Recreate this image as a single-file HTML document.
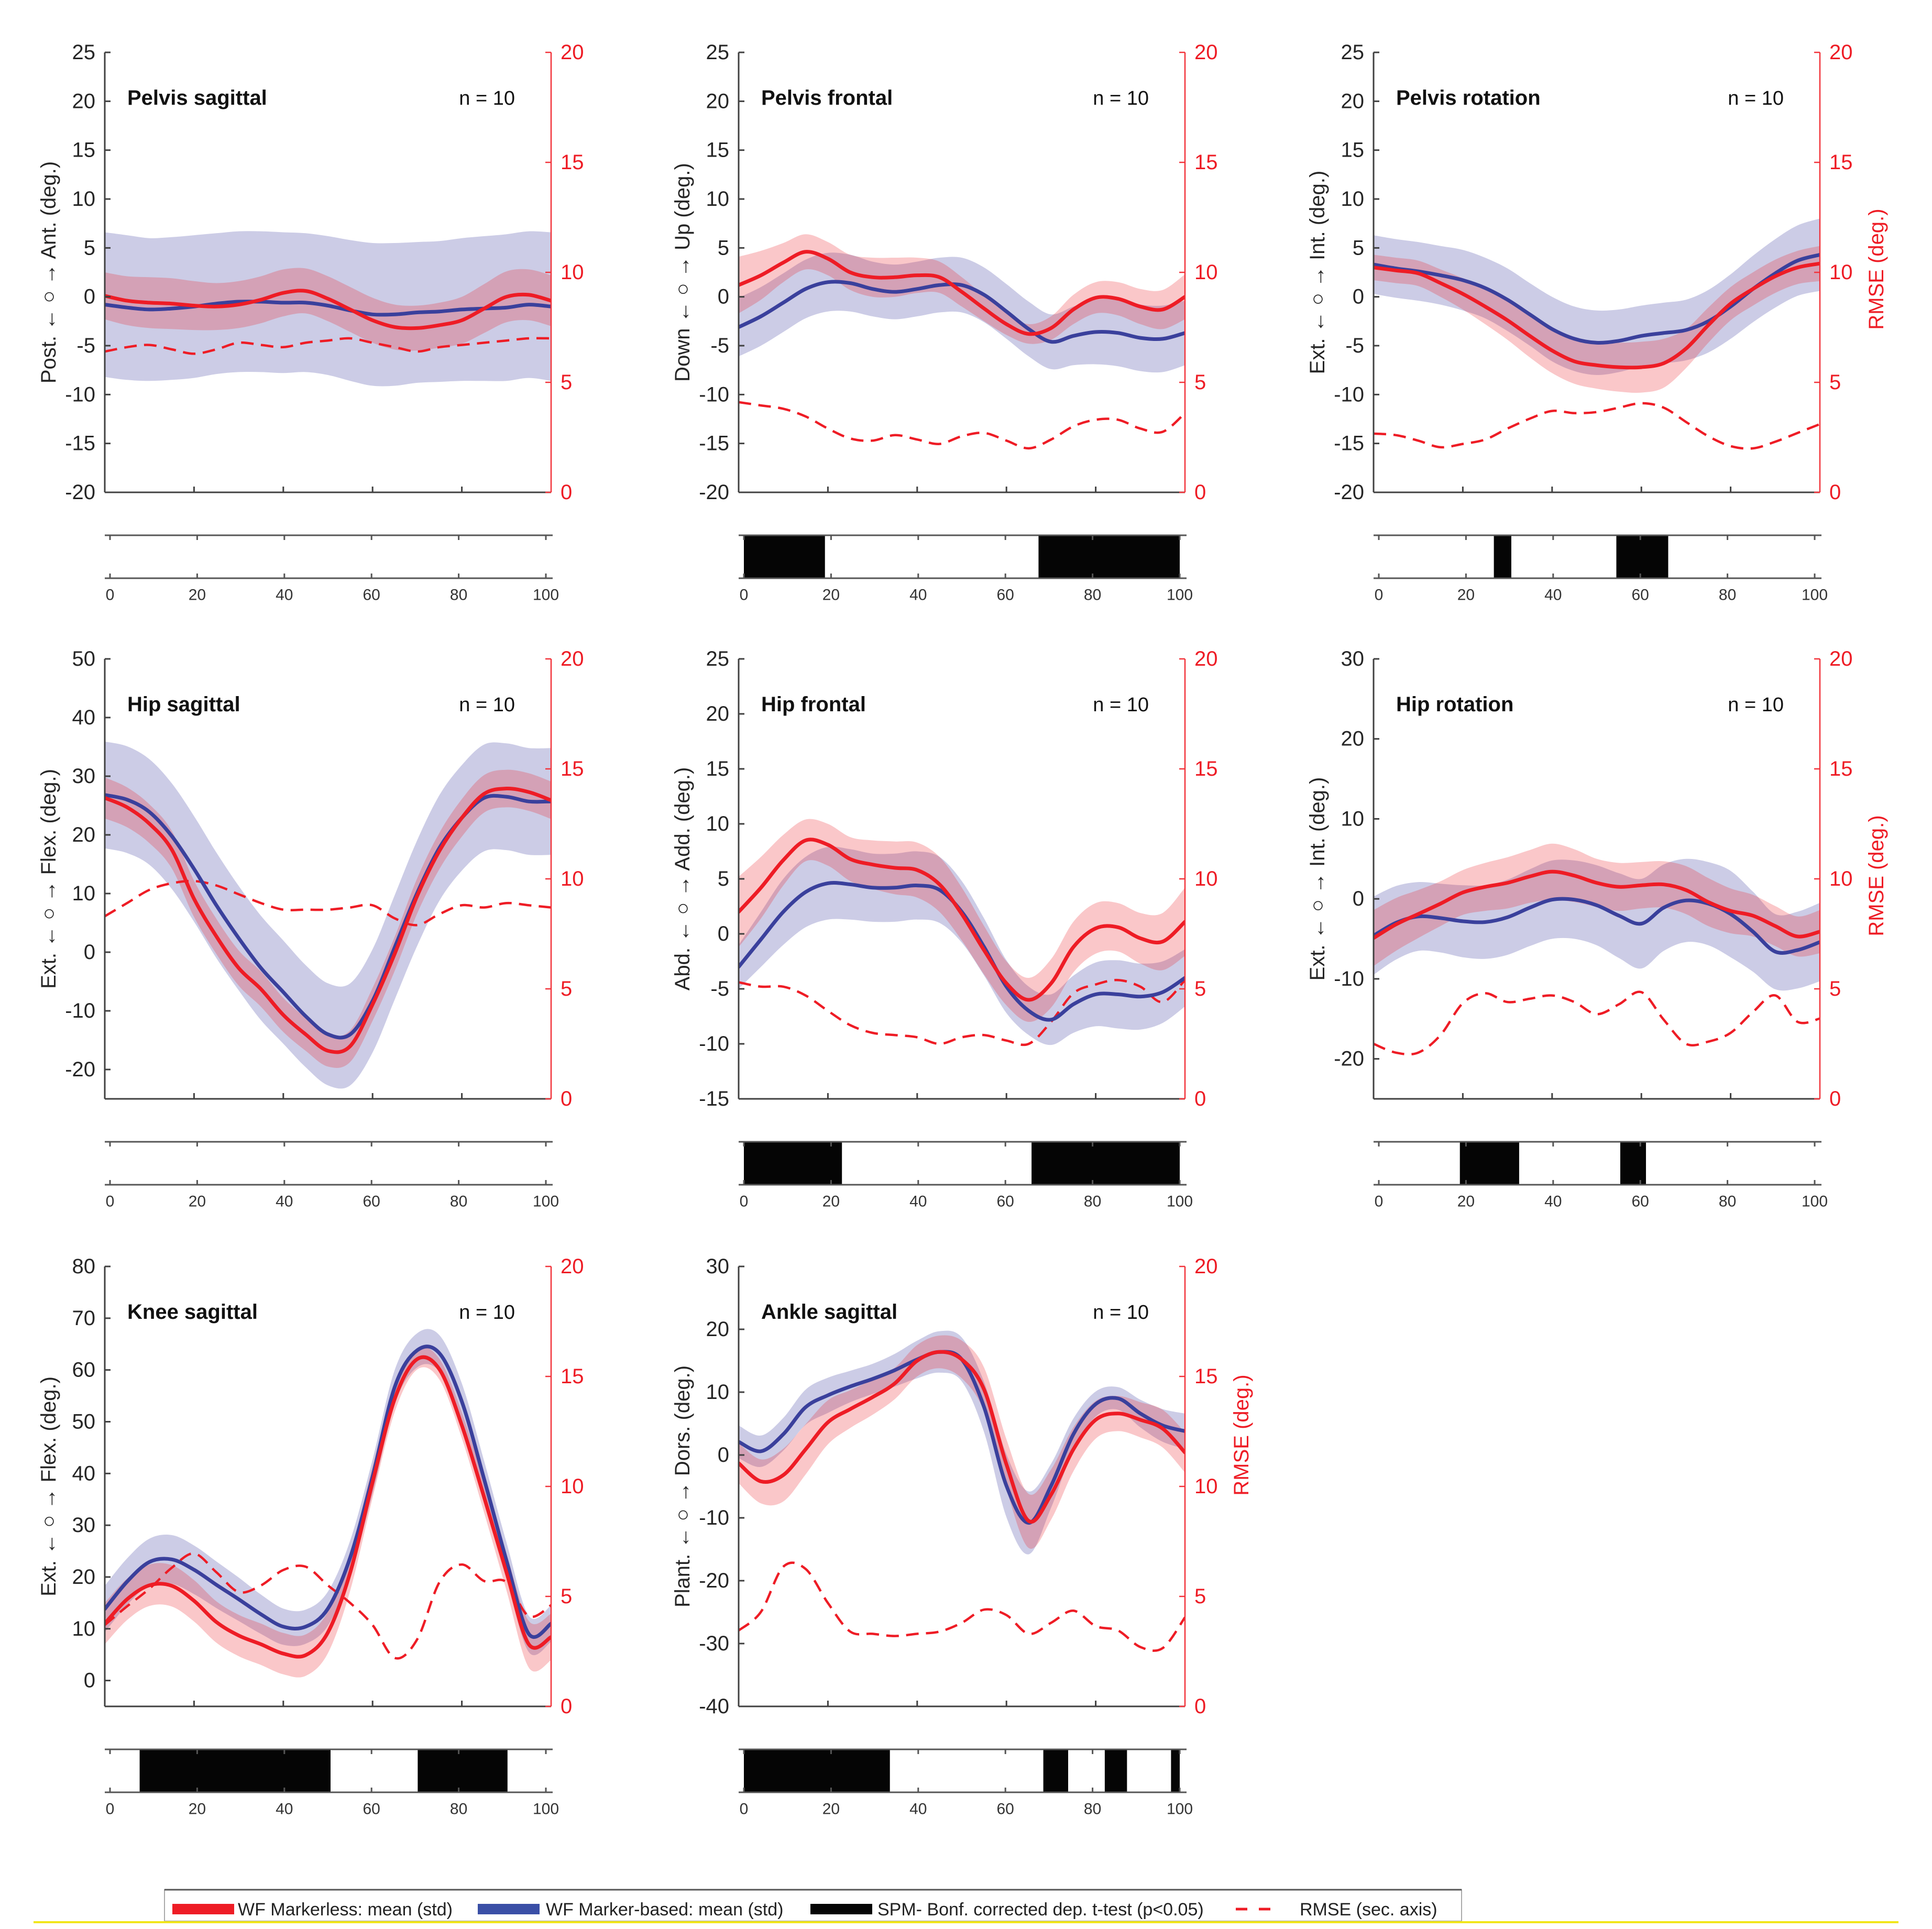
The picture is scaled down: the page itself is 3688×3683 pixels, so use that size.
<!DOCTYPE html>
<html><head><meta charset="utf-8"><style>
html,body{margin:0;padding:0;background:#fff;}
svg{display:block;font-family:"Liberation Sans",Arial,sans-serif;}
</style></head><body>
<svg id="fig" xmlns="http://www.w3.org/2000/svg" width="3688" height="3683" viewBox="0 0 3688 3683"></svg>
<script>
const pct = [0,5,10,15,20,25,30,35,40,45,50,55,60,65,70,75,80,85,90,95,100];

// Pelvis sagittal
const psRed = [0.1,-0.4,-0.6,-0.7,-0.9,-1.0,-0.8,-0.3,0.4,0.6,-0.2,-1.3,-2.4,-3.1,-3.2,-2.9,-2.4,-1.2,0.0,0.2,-0.4];
const psRedSd = [2.4,2.5,2.6,2.6,2.5,2.4,2.4,2.4,2.4,2.3,2.3,2.3,2.3,2.3,2.3,2.3,2.4,2.5,2.6,2.6,2.6];
const psBlue = [-0.8,-1.1,-1.3,-1.2,-1.0,-0.7,-0.5,-0.5,-0.6,-0.6,-0.9,-1.4,-1.8,-1.8,-1.6,-1.5,-1.3,-1.2,-1.1,-0.8,-1.0];
const psBlueSd = [7.4,7.4,7.3,7.3,7.3,7.2,7.2,7.2,7.2,7.1,7.1,7.2,7.3,7.3,7.2,7.2,7.3,7.4,7.5,7.5,7.6];
const psRmse = [6.4,6.6,6.7,6.5,6.3,6.5,6.8,6.7,6.6,6.8,6.9,7.0,6.8,6.6,6.4,6.6,6.7,6.8,6.9,7.0,7.0];
const psSpm = [];

// Pelvis frontal
const pfRed = [1.2,2.2,3.5,4.6,3.9,2.5,2.0,2.0,2.2,2.0,0.5,-1.2,-2.8,-3.8,-3.2,-1.3,-0.1,-0.2,-1.0,-1.3,0.0];
const pfRedSd = [2.9,2.5,2.0,1.8,1.7,1.8,2.0,2.0,1.8,1.6,1.5,1.3,1.1,1.0,1.2,1.5,1.6,1.7,1.8,2.0,2.3];
const pfBlue = [-3.1,-2.0,-0.6,0.8,1.5,1.4,0.8,0.5,0.8,1.2,1.2,0.2,-1.5,-3.3,-4.6,-4.0,-3.6,-3.7,-4.2,-4.3,-3.7];
const pfBlueSd = [3.0,3.0,3.0,3.0,3.0,2.9,2.8,2.8,2.8,2.8,2.8,2.8,2.8,2.8,2.8,3.0,3.3,3.4,3.4,3.4,3.3];
const pfRmse = [4.1,3.95,3.8,3.45,2.9,2.45,2.35,2.6,2.4,2.2,2.55,2.7,2.35,2.0,2.4,3.0,3.3,3.3,2.9,2.75,3.6];
const pfSpm = [[0,18.6],[67.6,100]];

// Pelvis rotation
const prRed = [3.0,2.7,2.4,1.4,0.3,-1.0,-2.4,-4.0,-5.5,-6.6,-7.0,-7.2,-7.2,-6.8,-5.3,-2.9,-0.7,0.8,2.1,3.0,3.4];
const prRedSd = [1.3,1.3,1.3,1.4,1.6,1.8,2.0,2.2,2.3,2.3,2.4,2.5,2.6,2.5,2.0,1.8,1.7,1.7,1.7,1.7,1.8];
const prBlue = [3.3,2.9,2.6,2.2,1.7,0.9,-0.3,-1.8,-3.3,-4.3,-4.7,-4.5,-4.0,-3.7,-3.4,-2.5,-1.0,0.8,2.4,3.7,4.3];
const prBlueSd = [3.0,3.0,3.0,3.0,3.1,3.1,3.2,3.2,3.3,3.3,3.3,3.2,3.1,3.1,3.1,3.2,3.3,3.4,3.5,3.6,3.7];
const prRmse = [2.67,2.6,2.35,2.05,2.2,2.4,2.9,3.35,3.7,3.6,3.65,3.85,4.05,3.85,3.2,2.55,2.1,2.0,2.3,2.7,3.1];
const prSpm = [[26.4,30.4],[54.5,66.4]];

// Hip sagittal
const hsRed = [26.3,24.7,21.9,17.5,9.1,2.7,-2.7,-6.3,-10.7,-14.0,-16.8,-16.0,-8.9,-0.2,9.6,17.3,22.9,27.0,27.9,27.3,25.9];
const hsRedSd = [3.5,3.4,3.3,3.2,3.1,3.0,3.0,3.0,2.9,2.8,2.7,2.7,2.8,2.9,3.0,3.1,3.2,3.2,3.2,3.2,3.2];
const hsBlue = [26.8,26.0,23.9,19.8,14.2,8.0,2.4,-2.7,-6.8,-10.9,-14.0,-14.0,-8.3,0.9,10.1,17.8,22.9,26.3,26.5,25.7,25.7];
const hsBlueSd = [9.1,9.1,9.0,9.0,9.0,9.0,8.9,8.9,8.8,8.7,8.7,8.7,8.8,8.9,9.0,9.0,9.0,9.1,9.1,9.1,9.1];
const hsRmse = [8.3,8.9,9.5,9.8,9.9,9.7,9.3,8.9,8.6,8.6,8.6,8.7,8.8,8.2,7.9,8.4,8.8,8.7,8.9,8.8,8.7];
const hsSpm = [];

// Hip frontal
const hfRed = [2.0,4.2,6.7,8.5,8.1,6.8,6.3,6.0,5.8,4.5,1.8,-1.5,-4.5,-6.0,-4.5,-1.2,0.5,0.6,-0.4,-0.7,1.1];
const hfRedSd = [3.2,2.8,2.3,1.9,1.9,2.0,2.2,2.4,2.5,2.5,2.4,2.2,2.0,2.0,2.2,2.3,2.3,2.2,2.3,2.6,3.1];
const hfBlue = [-3.0,-0.5,2.0,3.8,4.6,4.5,4.2,4.2,4.4,4.0,2.0,-1.2,-4.8,-7.0,-7.8,-6.4,-5.5,-5.5,-5.7,-5.3,-4.0];
const hfBlueSd = [2.0,2.5,3.0,3.2,3.3,3.2,3.1,3.1,3.1,3.0,2.8,2.6,2.4,2.2,2.3,2.6,2.9,3.1,3.0,2.8,2.6];
const hfRmse = [5.3,5.1,5.1,4.7,4.0,3.35,3.0,2.9,2.8,2.5,2.8,2.9,2.65,2.5,3.5,4.8,5.2,5.4,5.1,4.4,5.4];
const hfSpm = [[0,22.5],[66,100]];

// Hip rotation
const hrRed = [-4.9,-3.2,-1.9,-0.6,0.8,1.5,2.0,2.8,3.4,2.9,2.0,1.5,1.7,1.8,1.1,-0.4,-1.5,-2.1,-3.4,-4.7,-4.1];
const hrRedSd = [3.5,3.3,3.0,2.8,2.8,3.0,3.2,3.3,3.5,3.3,3.0,3.0,2.9,2.9,3.0,3.0,2.8,2.6,2.5,2.5,2.7];
const hrBlue = [-4.6,-3.0,-2.2,-2.4,-2.8,-2.9,-2.3,-1.1,-0.1,-0.1,-0.8,-2.1,-3.1,-1.1,-0.2,-0.6,-1.9,-4.1,-6.6,-6.4,-5.4];
const hrBlueSd = [4.9,4.6,4.3,4.3,4.5,4.6,4.7,4.8,4.9,4.9,5.0,5.3,5.6,5.4,5.2,5.2,5.4,5.0,4.7,4.8,4.9];
const hrRmse = [2.5,2.1,2.1,2.9,4.35,4.8,4.4,4.55,4.7,4.4,3.85,4.3,4.85,3.6,2.5,2.6,3.0,3.95,4.7,3.5,3.65];
const hrSpm = [[18.6,32.2],[55.4,61.3]];

// Knee sagittal
const ksRed = [11.0,15.7,18.4,18.3,15.4,11.3,8.7,7.0,5.2,4.9,9.3,20.9,38.3,54.5,62.1,60.1,49.3,35.4,20.9,7.0,8.4];
const ksRedSd = [4,4,4,4,4,4,4,4,4,4,4,3.5,3,2.5,2,2,2.5,3,3.5,4.5,4.5];
const ksBlue = [13.8,19.1,22.9,23.4,21.4,18.5,15.7,12.8,10.4,10.4,13.9,23.8,39.4,56.8,63.8,63.2,53.9,38.9,23.2,9.0,11.0];
const ksBlueSd = [4.5,4.5,4.5,4.7,4.7,4.5,4.2,3.8,3.5,3.3,3.3,3.3,3.3,3.3,3.3,3.5,3.5,3.5,3.5,3.5,3.5];
const ksRmse = [3.7,4.55,5.35,6.3,6.95,6.1,5.2,5.5,6.2,6.35,5.5,4.7,3.7,2.2,3.05,5.65,6.45,5.7,5.65,4.1,4.6];
const ksSpm = [[6.8,50.6],[70.6,91.2]];

// Ankle sagittal
const asRed = [-1.3,-4.2,-3.2,0.9,5.2,7.3,9.2,11.4,15.0,16.4,15.2,10.4,-1.5,-10.5,-6.3,0.9,5.6,6.6,5.6,4.2,0.4];
const asRedSd = [3.2,3.5,4.2,4.0,3.5,3.0,2.8,2.5,2.5,2.6,3.0,3.5,4.0,4.3,4.0,3.5,3.0,2.8,2.8,3.0,3.2];
const asBlue = [2.1,0.6,3.3,7.6,9.5,10.9,12.1,13.5,15.2,16.4,15.2,7.6,-4.9,-10.8,-4.9,3.3,8.1,9.0,6.6,4.7,3.8];
const asBlueSd = [2.6,2.5,2.6,2.8,2.8,2.5,2.4,2.6,3.0,3.3,3.5,4.0,5.0,5.0,3.5,2.5,2.0,1.8,2.2,2.6,2.8];
const asRmse = [3.45,4.3,6.35,6.25,4.7,3.4,3.3,3.2,3.3,3.4,3.8,4.4,4.15,3.3,3.8,4.35,3.65,3.45,2.7,2.65,4.05];
const asSpm = [[0,33.5],[68.7,74.4],[82.8,87.9],[98,100]];

// Axis tick arrays
const ticksPelvis = [-20,-15,-10,-5,0,5,10,15,20,25];
const ticksHipSag = [-20,-10,0,10,20,30,40,50];
const ticksHipFront = [-15,-10,-5,0,5,10,15,20,25];
const ticksHipRot = [-20,-10,0,10,20,30];
const ticksKnee = [0,10,20,30,40,50,60,70,80];
const ticksAnkle = [-40,-30,-20,-10,0,10,20,30];
const ticksRmse = [0,5,10,15,20];
const ticksX = [0,20,40,60,80,100];

const NS = "http://www.w3.org/2000/svg";
const svg = document.getElementById('fig');
function mk(tag, attrs, parent){ const e=document.createElementNS(NS,tag); for(const k in attrs) e.setAttribute(k,attrs[k]); (parent||svg).appendChild(e); return e; }

function smooth(pts){
  let d = "M"+pts[0][0].toFixed(1)+","+pts[0][1].toFixed(1);
  for(let i=0;i<pts.length-1;i++){
    const p0=pts[Math.max(i-1,0)], p1=pts[i], p2=pts[i+1], p3=pts[Math.min(i+2,pts.length-1)];
    const c1=[p1[0]+(p2[0]-p0[0])/6, p1[1]+(p2[1]-p0[1])/6];
    const c2=[p2[0]-(p3[0]-p1[0])/6, p2[1]-(p3[1]-p1[1])/6];
    d+=" C"+c1[0].toFixed(1)+","+c1[1].toFixed(1)+" "+c2[0].toFixed(1)+","+c2[1].toFixed(1)+" "+p2[0].toFixed(1)+","+p2[1].toFixed(1);
  }
  return d;
}

const panels = [
 {id:'pelvis-sagittal', title:'Pelvis sagittal', ylabel:'Post. \u2190 \u25CB \u2192 Ant. (deg.)', col:0,row:0, ymin:-20,ymax:25, ticks:ticksPelvis, red:psRed, redSd:psRedSd, blue:psBlue, blueSd:psBlueSd, rmse:psRmse, spm:psSpm, rlabel:false},
 {id:'pelvis-frontal', title:'Pelvis frontal', ylabel:'Down \u2190 \u25CB \u2192 Up (deg.)', col:1,row:0, ymin:-20,ymax:25, ticks:ticksPelvis, red:pfRed, redSd:pfRedSd, blue:pfBlue, blueSd:pfBlueSd, rmse:pfRmse, spm:pfSpm, rlabel:false},
 {id:'pelvis-rotation', title:'Pelvis rotation', ylabel:'Ext. \u2190 \u25CB \u2192 Int. (deg.)', col:2,row:0, ymin:-20,ymax:25, ticks:ticksPelvis, red:prRed, redSd:prRedSd, blue:prBlue, blueSd:prBlueSd, rmse:prRmse, spm:prSpm, rlabel:true},
 {id:'hip-sagittal', title:'Hip sagittal', ylabel:'Ext. \u2190 \u25CB \u2192 Flex. (deg.)', col:0,row:1, ymin:-25,ymax:50, ticks:ticksHipSag, red:hsRed, redSd:hsRedSd, blue:hsBlue, blueSd:hsBlueSd, rmse:hsRmse, spm:hsSpm, rlabel:false},
 {id:'hip-frontal', title:'Hip frontal', ylabel:'Abd. \u2190 \u25CB \u2192 Add. (deg.)', col:1,row:1, ymin:-15,ymax:25, ticks:ticksHipFront, red:hfRed, redSd:hfRedSd, blue:hfBlue, blueSd:hfBlueSd, rmse:hfRmse, spm:hfSpm, rlabel:false},
 {id:'hip-rotation', title:'Hip rotation', ylabel:'Ext. \u2190 \u25CB \u2192 Int. (deg.)', col:2,row:1, ymin:-25,ymax:30, ticks:ticksHipRot, red:hrRed, redSd:hrRedSd, blue:hrBlue, blueSd:hrBlueSd, rmse:hrRmse, spm:hrSpm, rlabel:true},
 {id:'knee-sagittal', title:'Knee sagittal', ylabel:'Ext. \u2190 \u25CB \u2192 Flex. (deg.)', col:0,row:2, ymin:-5,ymax:80, ticks:ticksKnee, red:ksRed, redSd:ksRedSd, blue:ksBlue, blueSd:ksBlueSd, rmse:ksRmse, spm:ksSpm, rlabel:false},
 {id:'ankle-sagittal', title:'Ankle sagittal', ylabel:'Plant. \u2190 \u25CB \u2192 Dors. (deg.)', col:1,row:2, ymin:-40,ymax:30, ticks:ticksAnkle, red:asRed, redSd:asRedSd, blue:asBlue, blueSd:asBlueSd, rmse:asRmse, spm:asSpm, rlabel:true, rlabelY:2740},
];
const colX=[200,1410,2622], rowY=[100,1258,2418], W=852, H=840;
const AX="#404040", RED="#ee1c25", BLUE="#3a409c", RAX="#f2333a";

panels.forEach((p,pi)=>{
  const L=colX[p.col], T=rowY[p.row], R=L+W, B=T+H;
  const g=mk('g',{});
  
  
  const xs=v=>L+v/100*W;
  const ys=v=>B-(v-p.ymin)/(p.ymax-p.ymin)*H;
  const yr=v=>B-v/20*H;
  const clip=mk('clipPath',{id:'c'+pi},g); mk('rect',{x:L,y:T,width:W,height:H},clip);
  const plot=mk('g',{'clip-path':'url(#c'+pi+')'},g);
  function band(mean,sd,fill,name){
    const up=pct.map((x,i)=>[xs(x),ys(mean[i]+sd[i])]);
    const lo=pct.map((x,i)=>[xs(x),ys(mean[i]-sd[i])]).reverse();
    const d=smooth(up)+" L"+lo[0][0]+","+lo[0][1]+smooth(lo).replace(/^M[^C]*/,' ')+" Z";
    const e=mk('path',{d:d,fill:fill,stroke:'none'},plot);
    
    
  }
  band(p.blue,p.blueSd,'rgba(40,40,150,0.24)','marker-based-std-band');
  band(p.red,p.redSd,'rgba(235,30,40,0.25)','markerless-std-band');
  const rm=mk('path',{d:smooth(pct.map((x,i)=>[xs(x),yr(p.rmse[i])])),fill:'none',stroke:RED,'stroke-width':4.5,'stroke-dasharray':'24 14'},plot);
  
  
  const bl=mk('path',{d:smooth(pct.map((x,i)=>[xs(x),ys(p.blue[i])])),fill:'none',stroke:BLUE,'stroke-width':7,'stroke-linecap':'round'},plot);
  
  
  const rl=mk('path',{d:smooth(pct.map((x,i)=>[xs(x),ys(p.red[i])])),fill:'none',stroke:RED,'stroke-width':7,'stroke-linecap':'round'},plot);
  
  

  // axes
  mk('line',{x1:L,y1:T,x2:L,y2:B,stroke:AX,'stroke-width':3},g);
  mk('line',{x1:L,y1:B,x2:R,y2:B,stroke:AX,'stroke-width':3},g);
  mk('line',{x1:R,y1:T,x2:R,y2:B,stroke:RAX,'stroke-width':2.5},g);
  p.ticks.forEach(t=>{
    const y=ys(t);
    mk('line',{x1:L,y1:y,x2:L+11,y2:y,stroke:AX,'stroke-width':3},g);
    const tx=mk('text',{x:L-18,y:y,'text-anchor':'end','dominant-baseline':'central','font-size':40,fill:'#262626'},g);
    tx.textContent=t;
    
    
  });
  [20,40,60,80].forEach(t=>{ mk('line',{x1:xs(t),y1:B,x2:xs(t),y2:B-11,stroke:AX,'stroke-width':3},g); });
  ticksRmse.forEach(t=>{
    const y=yr(t);
    mk('line',{x1:R,y1:y,x2:R-11,y2:y,stroke:RAX,'stroke-width':2.5},g);
    const tx=mk('text',{x:R+18,y:y,'text-anchor':'start','dominant-baseline':'central','font-size':40,fill:RED},g);
    tx.textContent=t;
    
    
  });
  const yl=mk('text',{x:L-107,y:T+H/2,'text-anchor':'middle','dominant-baseline':'central','font-size':40,fill:'#262626',transform:'rotate(-90 '+(L-107)+' '+(T+H/2)+')'},g);
  yl.textContent=p.ylabel;
  
  
  if(p.rlabel){
    const ry=p.rlabelY||(T+H/2-6);
    const rt=mk('text',{x:R+108,y:ry,'text-anchor':'middle','dominant-baseline':'central','font-size':40,fill:RED,transform:'rotate(-90 '+(R+108)+' '+ry+')'},g);
    rt.textContent='RMSE (deg.)';
    
    
  }
  const ti=mk('text',{x:L+43,y:T+100,'font-size':40,'font-weight':'bold',fill:'#111'},g);
  ti.textContent=p.title;
  
  
  const nn=mk('text',{x:R-69,y:T+100,'text-anchor':'end','font-size':38,fill:'#111'},g);
  nn.textContent='n = 10';
  
  

  // SPM strip
  const sT=T+922, sB=T+1004;
  const sx=v=>L+10+v/100*(W-20);
  p.spm.forEach(s=>{
    const r=mk('rect',{x:sx(s[0]),y:sT,width:sx(s[1])-sx(s[0]),height:sB-sT,fill:'#050505'},g);
    
    
  });
  mk('line',{x1:L,y1:sT,x2:R+3,y2:sT,stroke:'#555','stroke-width':3},g);
  mk('line',{x1:L,y1:sB,x2:R+3,y2:sB,stroke:'#555','stroke-width':3},g);
  ticksX.forEach(t=>{
    mk('line',{x1:sx(t),y1:sT,x2:sx(t),y2:sT+9,stroke:'#555','stroke-width':3},g);
    mk('line',{x1:sx(t),y1:sB,x2:sx(t),y2:sB-9,stroke:'#555','stroke-width':3},g);
    const tx=mk('text',{x:sx(t),y:T+1036,'text-anchor':'middle','dominant-baseline':'central','font-size':30,fill:'#333'},g);
    tx.textContent=t;
    
    
  });
});
</script>
<svg width="3688" height="3683" style="position:absolute;left:0;top:0;pointer-events:none" xmlns="http://www.w3.org/2000/svg">
  <g font-family="Liberation Sans, Arial, sans-serif" font-size="34" fill="#222">
    <rect x="314" y="3608" width="2476" height="60" fill="#fff" stroke="#aaa" stroke-width="2"/>
    <line x1="314" y1="3608" x2="2790" y2="3608" stroke="#555" stroke-width="3"/>
    <g>
      <rect x="329" y="3635" width="118" height="20" fill="#ee1c25"/>
      <text x="454" y="3657">WF Markerless: mean (std)</text>
    </g>
    <g>
      <rect x="912" y="3635" width="118" height="20" fill="#3a4fa6"/>
      <text x="1042" y="3657">WF Marker-based: mean (std)</text>
    </g>
    <g>
      <rect x="1547" y="3635" width="118" height="20" fill="#050505"/>
      <text x="1675" y="3657">SPM- Bonf. corrected dep. t-test (p&lt;0.05)</text>
    </g>
    <g>
      <line x1="2359" y1="3645" x2="2446" y2="3645" stroke="#ee1c25" stroke-width="5" stroke-dasharray="22 22"/>
      <text x="2481" y="3657">RMSE (sec. axis)</text>
    </g>
  </g>
  <rect x="64" y="3668" width="3560" height="4" fill="#f1e61c"/>
</svg>
</body></html>
